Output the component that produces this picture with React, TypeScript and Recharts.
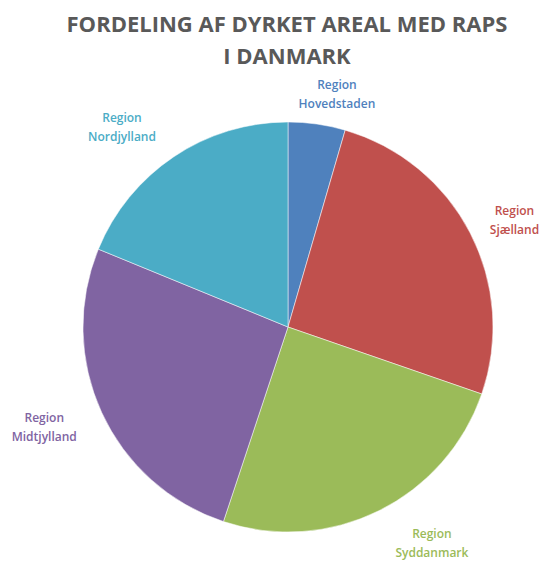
import { Cell, Pie, PieChart } from "recharts";

const regions = [
  "Region Hovedstaden",
  "Region Sjælland",
  "Region Syddanmark",
  "Region Midtjylland",
  "Region Nordjylland",
];
const shares = [4.5, 25.8, 24.8, 26.1, 18.8];
const colors = ["#4F81BD", "#C0504D", "#9BBB59", "#8064A2", "#4BACC6"];

// small hand nudges so labels sit where Excel put them
const labelNudge: [number, number][] = [
  [13, -2],
  [0, 0],
  [31, 7],
  [-12, 3],
  [-24, -6],
];

const data = regions.map((name, i) => ({ name, value: shares[i] }));

const RADIAN = Math.PI / 180;

function renderLabel(props: any) {
  const { cx, cy, midAngle, outerRadius, index, name } = props;
  const ux = Math.cos(-midAngle * RADIAN);
  const uy = Math.sin(-midAngle * RADIAN);
  const r = outerRadius + 10;
  const x = cx + ux * r + ux * 40 + labelNudge[index][0];
  const y = cy + uy * r + uy * 18 + labelNudge[index][1];
  const [first, second] = String(name).split(" ");
  return (
    <text
      x={x}
      y={y}
      textAnchor="middle"
      fill={colors[index]}
      fontSize={12}
      fontWeight={600}
      fontFamily="'Open Sans', sans-serif"
    >
      <tspan x={x} dy={-5}>
        {first}
      </tspan>
      <tspan x={x} dy={19}>
        {second}
      </tspan>
    </text>
  );
}

export default function App() {
  return (
    <div
      style={{
        position: "absolute",
        left: 0,
        top: 0,
        width: 544,
        height: 576,
        background: "#fff",
      }}
    >
      <PieChart width={544} height={576} margin={{ top: 0, right: 0, bottom: 0, left: 0 }}>
        <text
          x={287}
          y={32}
          textAnchor="middle"
          fill="#595959"
          fontSize={22}
          fontWeight={700}
          fontFamily="'Open Sans', sans-serif"
        >
          FORDELING AF DYRKET AREAL MED RAPS
        </text>
        <text
          x={287}
          y={64}
          textAnchor="middle"
          fill="#595959"
          fontSize={22}
          fontWeight={700}
          fontFamily="'Open Sans', sans-serif"
        >
          I DANMARK
        </text>
        <Pie
          data={data}
          dataKey="value"
          nameKey="name"
          cx={288}
          cy={327}
          outerRadius={205}
          startAngle={90}
          endAngle={-270}
          stroke="#fff"
          strokeWidth={0.5}
          labelLine={false}
          label={renderLabel}
          isAnimationActive={false}
        >
          {data.map((d, i) => (
            <Cell key={d.name} fill={colors[i]} />
          ))}
        </Pie>
      </PieChart>
    </div>
  );
}
